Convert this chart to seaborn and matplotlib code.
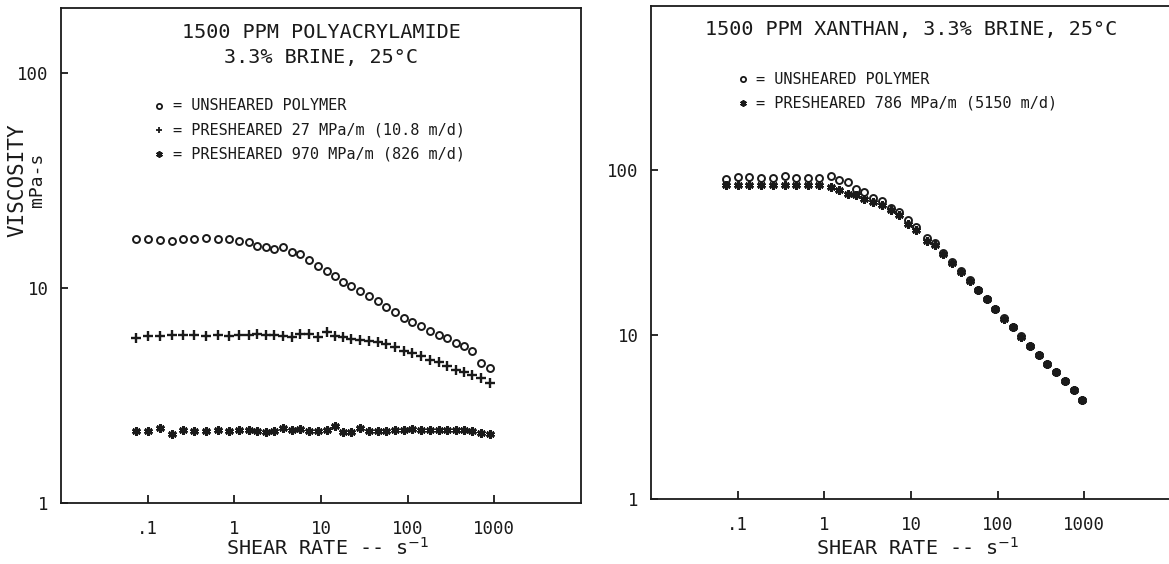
import matplotlib
matplotlib.use("Agg")
import matplotlib.pyplot as plt
import seaborn as sns
import numpy as np
import pandas as pd

# ---------------- data ----------------
# Left panel: 1500 ppm polyacrylamide
pam_shear = [0.074, 0.100, 0.137, 0.190, 0.259, 0.347, 0.468, 0.64, 0.866, 1.14,
             1.46, 1.85, 2.33, 2.89, 3.67, 4.63, 5.78, 7.31, 9.25, 11.6,
             14.4, 18.0, 22.4, 28.2, 35.5, 45.1, 56.1, 71.3, 89.8, 113,
             143, 182, 228, 288, 357, 448, 558, 695, 892]
pam_unsheared = [16.8, 16.9, 16.7, 16.5, 16.8, 16.9, 17.1, 16.8, 16.8, 16.6,
                 16.4, 15.7, 15.5, 15.2, 15.5, 14.7, 14.4, 13.5, 12.7, 12.0,
                 11.3, 10.7, 10.2, 9.66, 9.12, 8.68, 8.16, 7.73, 7.25, 6.91,
                 6.62, 6.31, 6.07, 5.82, 5.55, 5.35, 5.09, 4.48, 4.25]
pam_presheared_27 = [5.85, 5.96, 5.96, 6.06, 6.03, 6.03, 5.96, 6.06, 5.96, 6.03,
                     6.03, 6.11, 6.03, 6.03, 5.96, 5.91, 6.08, 6.08, 5.89, 6.24,
                     5.96, 5.90, 5.81, 5.75, 5.65, 5.59, 5.49, 5.30, 5.11, 4.99,
                     4.81, 4.64, 4.51, 4.32, 4.17, 4.07, 3.93, 3.82, 3.61]
pam_presheared_970 = [2.16, 2.16, 2.23, 2.10, 2.19, 2.16, 2.16, 2.19, 2.16, 2.19,
                      2.18, 2.16, 2.14, 2.17, 2.22, 2.19, 2.20, 2.17, 2.15, 2.19,
                      2.27, 2.14, 2.14, 2.22, 2.16, 2.17, 2.16, 2.19, 2.19, 2.20,
                      2.19, 2.19, 2.18, 2.19, 2.18, 2.18, 2.16, 2.12, 2.09]

# Right panel: 1500 ppm xanthan
xan_shear = [0.073, 0.100, 0.136, 0.186, 0.254, 0.352, 0.471, 0.643, 0.877, 1.19,
             1.49, 1.86, 2.32, 2.90, 3.69, 4.60, 5.85, 7.36, 9.35, 11.5,
             15.2, 19.0, 23.7, 29.8, 37.6, 47.4, 59.6, 75.0, 93.6, 117,
             149, 187, 233, 297, 373, 470, 593, 752, 938]
xan_unsheared = [89.0, 91.1, 91.1, 90.3, 90.3, 91.9, 90.3, 90.3, 90.3, 91.9,
                 86.9, 84.9, 77.4, 73.8, 68.2, 65.1, 59.3, 55.8, 49.7, 45.2,
                 38.5, 36.0, 31.6, 27.8, 24.5, 21.5, 18.8, 16.5, 14.4, 12.6,
                 11.1, 9.75, 8.55, 7.54, 6.64, 5.91, 5.23, 4.61, 4.01]
xan_presheared_786 = [81.0, 81.0, 81.0, 81.0, 81.0, 81.0, 81.0, 81.0, 81.0, 79.1,
                      75.6, 72.2, 70.5, 67.3, 64.2, 61.3, 57.1, 53.3, 47.4, 43.2,
                      37.2, 35.0, 30.9, 27.3, 24.1, 21.2, 18.6, 16.4, 14.3, 12.5,
                      11.1, 9.70, 8.51, 7.51, 6.62, 5.89, 5.22, 4.60, 4.00]

x_ticks = [0.1, 1, 10, 100, 1000]
x_tick_labels = [".1", "1", "10", "100", "1000"]
y_ticks = [1, 10, 100]
y_tick_labels = ["1", "10", "100"]

left_title = "1500 PPM POLYACRYLAMIDE\n3.3% BRINE, 25°C"
right_title = "1500 PPM XANTHAN, 3.3% BRINE, 25°C"
left_legend = ["= UNSHEARED POLYMER",
               "= PRESHEARED 27 MPa/m (10.8 m/d)",
               "= PRESHEARED 970 MPa/m (826 m/d)"]
right_legend = ["= UNSHEARED POLYMER",
                "= PRESHEARED 786 MPa/m (5150 m/d)"]
x_label = "SHEAR RATE -- s$^{-1}$"

# ---------------- style ----------------
sns.set_theme(style="ticks")
plt.rcParams["font.family"] = ["DejaVu Sans Mono", "DejaVu Sans"]
plt.rcParams["mathtext.fontset"] = "dejavusans"
INK = "#1a1a1a"

W, H = 1169, 564
fig = plt.figure(figsize=(W / 100, H / 100), dpi=100)
fig.patch.set_facecolor("white")


def px_axes(x0, x1, ytop, ybot):
    return fig.add_axes([x0 / W, (H - ybot) / H, (x1 - x0) / W, (ybot - ytop) / H])


def ftext(x, y, s, **kw):
    kw.setdefault("color", INK)
    return fig.text(x / W, 1 - y / H, s, **kw)


def fmark(x, y, **kw):
    fig.add_artist(plt.Line2D([x / W], [1 - y / H], transform=fig.transFigure,
                              linestyle="none", color=INK, **kw))


ax1 = px_axes(61, 581, 8, 503)
ax2 = px_axes(651, 1171, 6, 499)

CIRCLE = dict(marker="o", ms=5.0, mfc="none", mec=INK, mew=1.4)
PLUS = dict(marker="+", ms=6.5, mec=INK, mew=1.7)
STAR = dict(marker=(6, 2, 0), ms=6.2, mec=INK, mew=1.9)


def series(ax, x, y, style):
    df = pd.DataFrame({"shear": x, "visc": y})
    sns.lineplot(data=df, x="shear", y="visc", ax=ax, estimator=None,
                 linestyle="none", color=INK, sort=False, **style)


series(ax1, pam_shear, pam_unsheared, CIRCLE)
series(ax1, pam_shear, pam_presheared_27, PLUS)
series(ax1, pam_shear, pam_presheared_970, STAR)

series(ax2, xan_shear, xan_unsheared, CIRCLE)
series(ax2, xan_shear, xan_presheared_786, STAR)

for ax, ytop in ((ax1, 200), (ax2, 1000)):
    ax.set_xscale("log")
    ax.set_yscale("log")
    ax.set_xlim(0.01, 10000)
    ax.set_ylim(1, ytop)
    ax.set_xticks(x_ticks)
    ax.set_xticklabels(x_tick_labels)
    ax.set_yticks(y_ticks)
    ax.set_yticklabels(y_tick_labels)
    ax.minorticks_off()
    ax.set_xlabel("")
    ax.set_ylabel("")
    ax.set_facecolor("white")
    ax.grid(False)
    for sp in ax.spines.values():
        sp.set_visible(True)
        sp.set_color(INK)
        sp.set_linewidth(1.3)
    ax.tick_params(axis="x", which="major", direction="in", length=6, width=1.3,
                   colors=INK, labelsize=12.5, pad=12)
    ax.tick_params(axis="y", which="major", direction="in", length=5, width=1.3,
                   colors=INK, labelsize=12.5, pad=9)
    ax.tick_params(top=False, right=False)

# titles
ftext(321, 45, left_title, ha="center", va="center", fontsize=14.5,
      linespacing=1.35)
ftext(911, 29, right_title, ha="center", va="center", fontsize=14.5)

# legends
syms_left = [CIRCLE, PLUS, STAR]
for (yy, txt, st) in zip([106, 130, 154], left_legend, syms_left):
    s = dict(st)
    s["ms"] = s["ms"] * 0.75
    s["mew"] = 1.3
    fmark(159, yy, **s)
    ftext(173, yy, txt, ha="left", va="center", fontsize=11)

syms_right = [CIRCLE, STAR]
for (yy, txt, st) in zip([79, 103], right_legend, syms_right):
    s = dict(st)
    s["ms"] = s["ms"] * 0.75
    s["mew"] = 1.3
    fmark(743, yy, **s)
    ftext(756, yy, txt, ha="left", va="center", fontsize=11)

# y-axis label (left panel only)
ftext(17, 180, "VISCOSITY", rotation=90, ha="center", va="center", fontsize=15)
ftext(37, 180, "mPa-s", rotation=90, ha="center", va="center", fontsize=13)

# x-axis labels
ftext(328, 548, x_label, ha="center", va="center", fontsize=14.5)
ftext(918, 548, x_label, ha="center", va="center", fontsize=14.5)

fig.savefig("out.png", dpi=100, facecolor="white")
